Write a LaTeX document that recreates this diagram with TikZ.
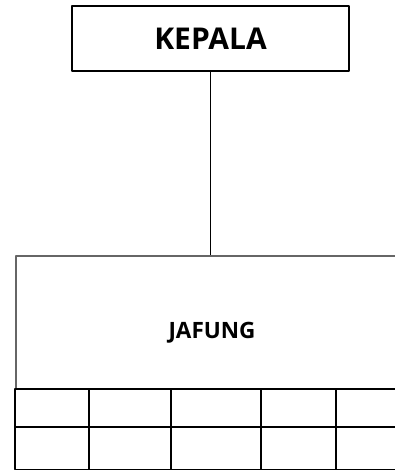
\documentclass[tikz,border=0pt]{standalone}
\usepackage{fontspec}
\setmainfont{Open Sans}
\begin{document}
\begin{tikzpicture}[x=1pt, y=-1pt, line join=round, font=\bfseries]
	% Warna garis
	\colorlet{garis}{black}
	\colorlet{garisabu}{black!60}
	\tikzset{
		kotakkepala/.style={draw=garis, line width=1.8pt, minimum width=277pt, minimum height=65pt, inner sep=0pt},
		kotakjafung/.style={draw=garisabu, line width=1.8pt, minimum width=420pt, minimum height=133pt, inner sep=0pt},
		seltabel/.style={draw=garis, line width=1.8pt}
	}
	\useasboundingbox (0,0) rectangle (395,470);
	\clip (0,0) rectangle (395,470);
	
	% Kotak kepala
	\node[kotakkepala, font=\fontsize{30}{36}\selectfont\bfseries] (kepala) at (210.5,38.5) {KEPALA};
	
	% Kotak jafung (terpotong di sisi kanan)
	\node[kotakjafung] (jafung) at (226,322.5) {};
	\node[font=\fontsize{22.5}{27}\selectfont\bfseries] (jafungteks) at (212,333) {JAFUNG};
	
	% Garis penghubung kepala ke jafung
	\draw[garis, line width=1.5pt] (kepala.south) -- (kepala.south |- jafung.north);
	
	% Tabel di bawah kotak jafung
	\foreach \xa/\xb in {15/89, 89/171, 171/261, 261/336, 336/412} {
		\draw[seltabel] (\xa,389) rectangle (\xb,427);
		\draw[seltabel] (\xa,427) rectangle (\xb,469.5);
	}
\end{tikzpicture}
\end{document}
